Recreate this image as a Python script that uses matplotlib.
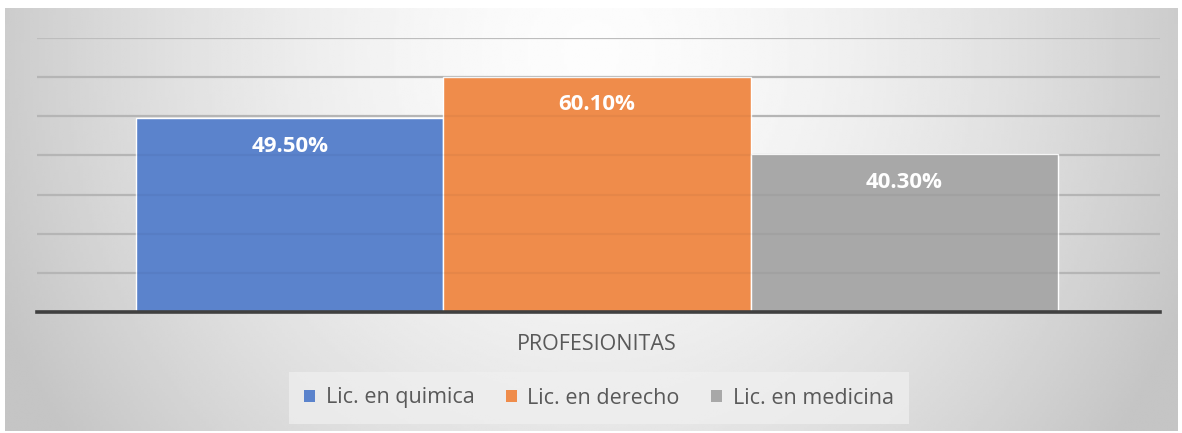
import numpy as np
import matplotlib.pyplot as plt
from matplotlib.patches import Patch

categoria = "PROFESIONITAS"
series = ["Lic. en quimica", "Lic. en derecho", "Lic. en medicina"]
valores = [49.5, 60.1, 40.3]
colores = ["#5b83cc", "#ef8c4b", "#a8a8a8"]

W, H = 1182, 433
fig = plt.figure(figsize=(W / 100, H / 100), dpi=100)
fig.patch.set_facecolor("white")

# fondo degradado (claro arriba al centro, gris hacia los bordes)
bg = fig.add_axes([5 / W, 2 / H, 1173 / W, 423 / H])
yy, xx = np.mgrid[0:1:200j, 0:1:400j]
r = np.sqrt(((xx - 0.5) / 0.55) ** 2 + ((yy - 0.9) / 1.6) ** 2)
grad = 0.99 - 0.22 * np.clip(r, 0, 1) ** 1.6
bg.imshow(grad, cmap="gray", vmin=0, vmax=1, extent=[0, 1, 0, 1],
          aspect="auto", origin="lower", interpolation="bilinear")
bg.axis("off")

ax = fig.add_axes([37 / W, (H - 312) / H, 1123 / W, 274 / H])
ax.patch.set_alpha(0)
x = np.array([-1.0, 0.0, 1.0])
bars = ax.bar(x, valores, width=1.0, color=colores, edgecolor="white",
              linewidth=1.0, zorder=3)
# lineas de cuadricula apenas visibles a traves de las barras
for v in np.arange(10, 61, 10):
    ax.axhline(v, color="black", alpha=0.04, linewidth=1.6, zorder=3.5)
ax.set_xlim(-1.822, 1.832)
ax.set_ylim(0, 70)
ax.set_yticks(np.arange(0, 71, 10))
ax.grid(axis="y", color="#bdbdbd", linewidth=1.6, zorder=0)
ax.tick_params(left=False, bottom=False, labelleft=False, labelbottom=False)
for s in ["top", "right", "left"]:
    ax.spines[s].set_visible(False)
ax.spines["bottom"].set_color("#404040")
ax.spines["bottom"].set_linewidth(2.6)
ax.spines["bottom"].set_zorder(4)

for b, v in zip(bars, valores):
    ax.text(b.get_x() + b.get_width() / 2, v - 7.2, f"{v:.2f}%",
            ha="center", va="center", color="white", fontsize=16,
            fontweight="bold", family="Open Sans", zorder=5)

fig.text(597 / W, 1 - 345 / H, categoria, ha="center", va="center",
         color="#595959", fontsize=15.5, family="Open Sans")

handles = [Patch(facecolor=c, edgecolor="none") for c in colores]
leg = fig.legend(handles, series, loc="center", bbox_to_anchor=(599 / W, 1 - 398 / H),
                 ncol=3, frameon=True, handlelength=0.5,
                 handleheight=0.5, handletextpad=0.5, columnspacing=1.45,
                 borderpad=0.15, borderaxespad=0,
                 prop={"family": "Open Sans", "size": 15.5})
leg.get_frame().set_facecolor("#f0f0f0")
leg.get_frame().set_edgecolor("none")
leg.get_frame().set_alpha(0.7)
leg.get_frame().set_boxstyle("square", pad=0.55)
for t in leg.get_texts():
    t.set_color("#595959")

fig.savefig("out.png", dpi=100)
